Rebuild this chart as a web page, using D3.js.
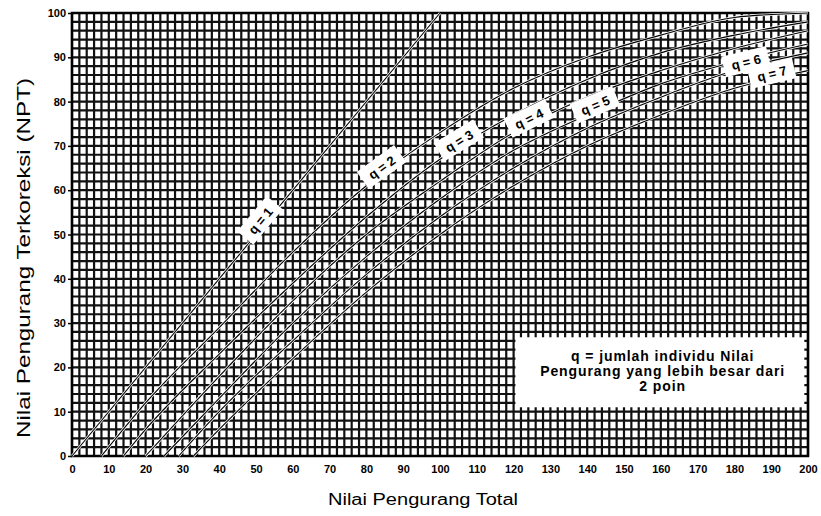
<!DOCTYPE html>
<html>
<head>
<meta charset="utf-8">
<script src="https://d3js.org/d3.v7.min.js"></script>
<style>
  body { margin: 0; background: #fff; }
  text { font-family: "Liberation Sans", Arial, sans-serif; }
</style>
</head>
<body>
<div id="chartDiv"></div>
<script>
// ---- data (TDV -> CDV) ----
var xTicks = [0,10,20,30,40,50,60,70,80,90,100,110,120,130,140,150,160,170,180,190,200];
var yTicks = [0,10,20,30,40,50,60,70,80,90,100];

var q1Points = [[0,0],[100,100]];
var q2Points = [[8,0],[20,12],[40,29],[60,46],[80,61],[100,73],[120,83],[140,90],[160,95],[180,99],[200,100]];
var q3Points = [[14,0],[20,6],[40,23],[60,39],[80,54],[100,67],[120,77],[140,85],[160,91],[180,95],[200,98]];
var q4Points = [[20,0],[40,18],[60,35],[80,50],[100,62],[120,73],[140,81],[160,87],[180,92],[200,96]];
var q5Points = [[25,0],[40,13],[60,30],[80,45],[100,58],[120,69],[140,77],[160,84],[180,89],[200,93]];
var q6Points = [[29,0],[40,10],[60,26],[80,41],[100,54],[120,65],[140,74],[160,81],[180,87],[200,91]];
var q7Points = [[33,0],[40,6],[60,22],[80,37],[100,50],[120,61],[140,70],[160,77],[180,83],[200,87]];

var qNames = ["q = 1","q = 2","q = 3","q = 4","q = 5","q = 6","q = 7"];
var labelTdv = [52, 85, 106, 125, 143, 184, 191];

var legendLines = ["q = jumlah individu Nilai", "Pengurang yang lebih besar dari", "2 poin"];

var curves = [q1Points, q2Points, q3Points, q4Points, q5Points, q6Points, q7Points];

// size and margins
var margin = {top: 13, right: 13, bottom: 60, left: 72};
var width = 821 - margin.left - margin.right;
var height = 516 - margin.top - margin.bottom;

var svg = d3.select('#chartDiv').append('svg')
  .attr('width', 821).attr('height', 516);

var main = svg.append('g')
  .attr('transform', 'translate(' + margin.left + ',' + margin.top + ')');

var x = d3.scaleLinear().domain([0, 200]).range([0, width]);
var y = d3.scaleLinear().domain([0, 100]).range([height, 0]);

// dense graph-paper grid, a line every 2 units
var grid = main.append('g').attr('stroke', '#111').attr('stroke-width', 2.2);
grid.selectAll('line.v').data(d3.range(0, 201, 2)).enter().append('line')
  .attr('x1', d => x(d)).attr('x2', d => x(d))
  .attr('y1', 0).attr('y2', height);
grid.selectAll('line.h').data(d3.range(0, 101, 2)).enter().append('line')
  .attr('y1', d => y(d)).attr('y2', d => y(d))
  .attr('x1', 0).attr('x2', width);

main.append('rect')
  .attr('width', width).attr('height', height)
  .attr('fill', 'none').attr('stroke', '#000').attr('stroke-width', 2.5);

// curves
var line = d3.line().x(d => x(d[0])).y(d => y(d[1])).curve(d3.curveMonotoneX);
var cg = main.append('g');
cg.selectAll('path.halo').data(curves).enter().append('path')
  .attr('d', line).attr('fill', 'none').attr('stroke', '#fff').attr('stroke-width', 2.6);
cg.selectAll('path.ln').data(curves).enter().append('path')
  .attr('d', line).attr('fill', 'none').attr('stroke', '#000').attr('stroke-width', 1.1);

// curve labels on white boxes, turned along the curve
function cdvAt(pts, t) {
  for (var i = 1; i < pts.length; i++) {
    if (t <= pts[i][0]) {
      var a = pts[i-1], b = pts[i];
      return a[1] + (b[1]-a[1]) * (t-a[0]) / (b[0]-a[0]);
    }
  }
  return pts[pts.length-1][1];
}
curves.forEach(function(pts, i) {
  var t = labelTdv[i];
  var px = x(t), py = y(cdvAt(pts, t));
  var dx = x(t + 2) - x(t - 2);
  var dy = y(cdvAt(pts, t + 2)) - y(cdvAt(pts, t - 2));
  var ang = Math.atan2(dy, dx) * 180 / Math.PI;
  var g = main.append('g').attr('transform', 'translate(' + (px - 3) + ',' + (py - 5) + ') rotate(' + ang + ')');
  g.append('rect').attr('x', -23).attr('y', -11).attr('width', 46).attr('height', 21).attr('fill', '#fff');
  g.append('text').attr('text-anchor', 'middle').attr('dy', '0.36em')
    .style('font-size', '13px').style('font-weight', 'bold').text(qNames[i]);
});

// axes
var xAxis = d3.axisBottom(x).tickValues(xTicks).tickSize(0).tickPadding(9);
main.append('g').attr('transform', 'translate(0,' + height + ')').call(xAxis)
  .call(g => g.select('.domain').remove())
  .selectAll('text').style('font-size', '11px').style('font-weight', 'bold').attr('fill', '#000');

var yAxis = d3.axisLeft(y).tickValues(yTicks).tickSize(4).tickPadding(2);
main.append('g').call(yAxis)
  .call(g => g.select('.domain').remove())
  .call(g => g.selectAll('line').attr('stroke', '#000').attr('stroke-width', 1.5))
  .selectAll('text').style('font-size', '11px').style('font-weight', 'bold').attr('fill', '#000');

// legend box
var lg = main.append('g');
lg.append('rect').attr('x', x(120.5)).attr('y', y(26.8)).attr('width', x(199) - x(120.5))
  .attr('height', y(11) - y(26.8)).attr('fill', '#fff');
lg.selectAll('text').data(legendLines).enter().append('text')
  .attr('x', x(160.5)).attr('y', (d, i) => y(21.5) + i * 15)
  .attr('text-anchor', 'middle').style('font-size', '14px').style('font-weight', 'bold')
  .style('letter-spacing', '0.9px')
  .text(d => d);

// axis titles (the scan stretches them wide)
svg.append('text').attr('x', 423).attr('y', 505).attr('text-anchor', 'middle')
  .attr('textLength', 190).attr('lengthAdjust', 'spacingAndGlyphs')
  .style('font-size', '16px').text('Nilai Pengurang Total');
svg.append('text').attr('transform', 'translate(30,258) rotate(-90)').attr('text-anchor', 'middle')
  .attr('textLength', 360).attr('lengthAdjust', 'spacingAndGlyphs')
  .style('font-size', '18px').text('Nilai Pengurang Terkoreksi (NPT)');
</script>
</body>
</html>
